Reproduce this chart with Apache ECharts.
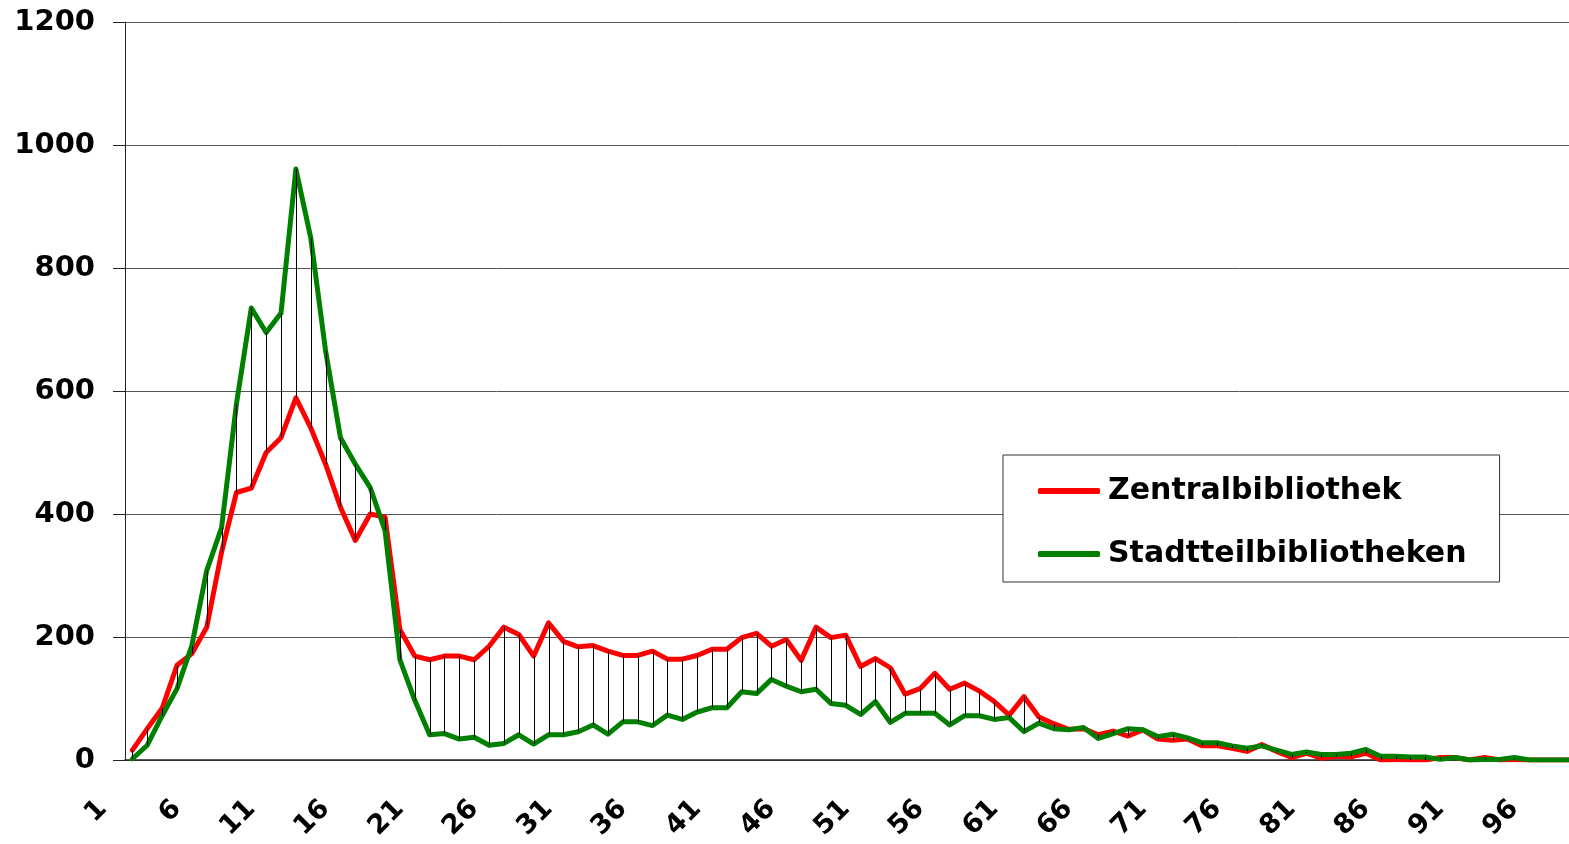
<!DOCTYPE html>
<html>
<head>
<meta charset="utf-8">
<script src="https://cdn.jsdelivr.net/npm/echarts@6/dist/echarts.min.js"></script>
<style>
  html, body { margin: 0; padding: 0; background: #fff; overflow: hidden; }
  /* the original plot runs past the right edge of the picture */
  #chart { width: 1611px; height: 844px; }
</style>
</head>
<body>
<div id="chart"></div>
<script>
// categories 1..100
const categories = [];
for (let i = 1; i <= 100; i++) categories.push(String(i));

const zentral = [
  16, 51, 84, 154, 173, 216, 338, 435, 442, 500,
  524, 589, 540, 481, 411, 357, 400, 395, 212, 169,
  163, 169, 169, 163, 185, 216, 204, 169, 223, 193,
  184, 186, 177, 170, 170, 177, 164, 164, 170, 180,
  180, 199, 206, 185, 196, 162, 216, 199, 203, 152,
  165, 150, 107, 116, 141, 115, 125, 112, 95, 73,
  103, 70, 59, 50, 51, 41, 47, 39, 49, 34,
  32, 34, 23, 23, 19, 14, 25, 14, 4, 11,
  3, 6, 5, 11, 0, 1, 0, 0, 4, 4,
  0, 4, 0, 1, 0, 0, 0, 0, 0, 0
];

const stadtteil = [
  2, 24, 72, 116, 186, 308, 378, 579, 735, 695,
  727, 961, 849, 665, 524, 481, 443, 373, 163, 97,
  41, 43, 34, 37, 24, 27, 41, 26, 41, 41,
  46, 57, 42, 62, 62, 56, 73, 66, 78, 85,
  85, 111, 108, 131, 120, 111, 115, 92, 89, 74,
  95, 61, 76, 76, 76, 57, 72, 72, 66, 69,
  46, 60, 51, 49, 53, 35, 43, 51, 49, 38,
  42, 36, 28, 28, 23, 19, 23, 16, 9, 13,
  9, 9, 11, 17, 6, 6, 5, 5, 1, 4,
  0, 1, 1, 4, 0, 0, 0, 0, 0, 0
];

const FONT = "DejaVu Sans";

// high-low lines between the two series
const hiLo = categories.map((c, i) => [i, zentral[i], stadtteil[i]]);

const myChart = echarts.init(document.getElementById("chart"));
const option = {
  backgroundColor: "#fff",
  animation: false,
  grid: {
    left: 125,
    top: 22,
    width: 1486,
    height: 738
  },
  legend: {
    orient: "vertical",
    left: 1003,
    top: 455,
    padding: [21, 33, 13, 35],
    itemWidth: 62,
    itemHeight: 6,
    itemGap: 33,
    icon: "roundRect",
    backgroundColor: "#fff",
    borderColor: "#333",
    borderWidth: 1,
    borderRadius: 0,
    textStyle: {
      fontFamily: FONT,
      fontWeight: "bold",
      fontSize: 30,
      color: "#000",
      padding: [0, 0, 0, 3]
    },
    data: ["Zentralbibliothek", "Stadtteilbibliotheken"]
  },
  xAxis: {
    type: "category",
    data: categories,
    boundaryGap: true,
    axisLine: { lineStyle: { color: "#222", width: 1.5 } },
    axisTick: {
      interval: 0,
      length: 10,
      inside: false,
      lineStyle: { color: "#222" }
    },
    axisLabel: {
      interval: 4,
      rotate: 45,
      margin: 15,
      padding: [0, 42, 0, 0],
      fontFamily: FONT,
      fontWeight: "bold",
      fontSize: 27,
      color: "#000"
    },
    splitLine: { show: false }
  },
  yAxis: {
    type: "value",
    min: 0,
    max: 1200,
    interval: 200,
    axisLine: { show: true, lineStyle: { color: "#222" } },
    axisTick: { show: true, length: 12, lineStyle: { color: "#222" } },
    axisLabel: {
      margin: 30,
      formatter: v => String(v),
      fontFamily: FONT,
      fontWeight: "bold",
      fontSize: 29,
      color: "#000"
    },
    splitLine: { lineStyle: { color: "#555", width: 1 } }
  },
  series: [
    {
      name: "Zentralbibliothek",
      type: "line",
      data: zentral,
      symbol: "none",
      lineStyle: { color: "#ff0000", width: 5, cap: "round", join: "round" },
      itemStyle: { color: "#ff0000" },
      z: 2
    },
    {
      name: "Stadtteilbibliotheken",
      type: "line",
      data: stadtteil,
      symbol: "none",
      lineStyle: { color: "#008000", width: 5, cap: "round", join: "round" },
      itemStyle: { color: "#008000" },
      z: 3
    },
    {
      name: "hilo",
      type: "custom",
      data: hiLo,
      encode: { x: 0, y: [1, 2] },
      z: 4,
      silent: true,
      renderItem: function (params, api) {
        const a = api.coord([api.value(0), api.value(1)]);
        const b = api.coord([api.value(0), api.value(2)]);
        const x = Math.round(a[0]) + 0.5;
        return {
          type: "line",
          shape: { x1: x, y1: a[1], x2: x, y2: b[1] },
          style: { stroke: "#000", lineWidth: 1 }
        };
      }
    }
  ]
};
myChart.setOption(option);
</script>
</body>
</html>
